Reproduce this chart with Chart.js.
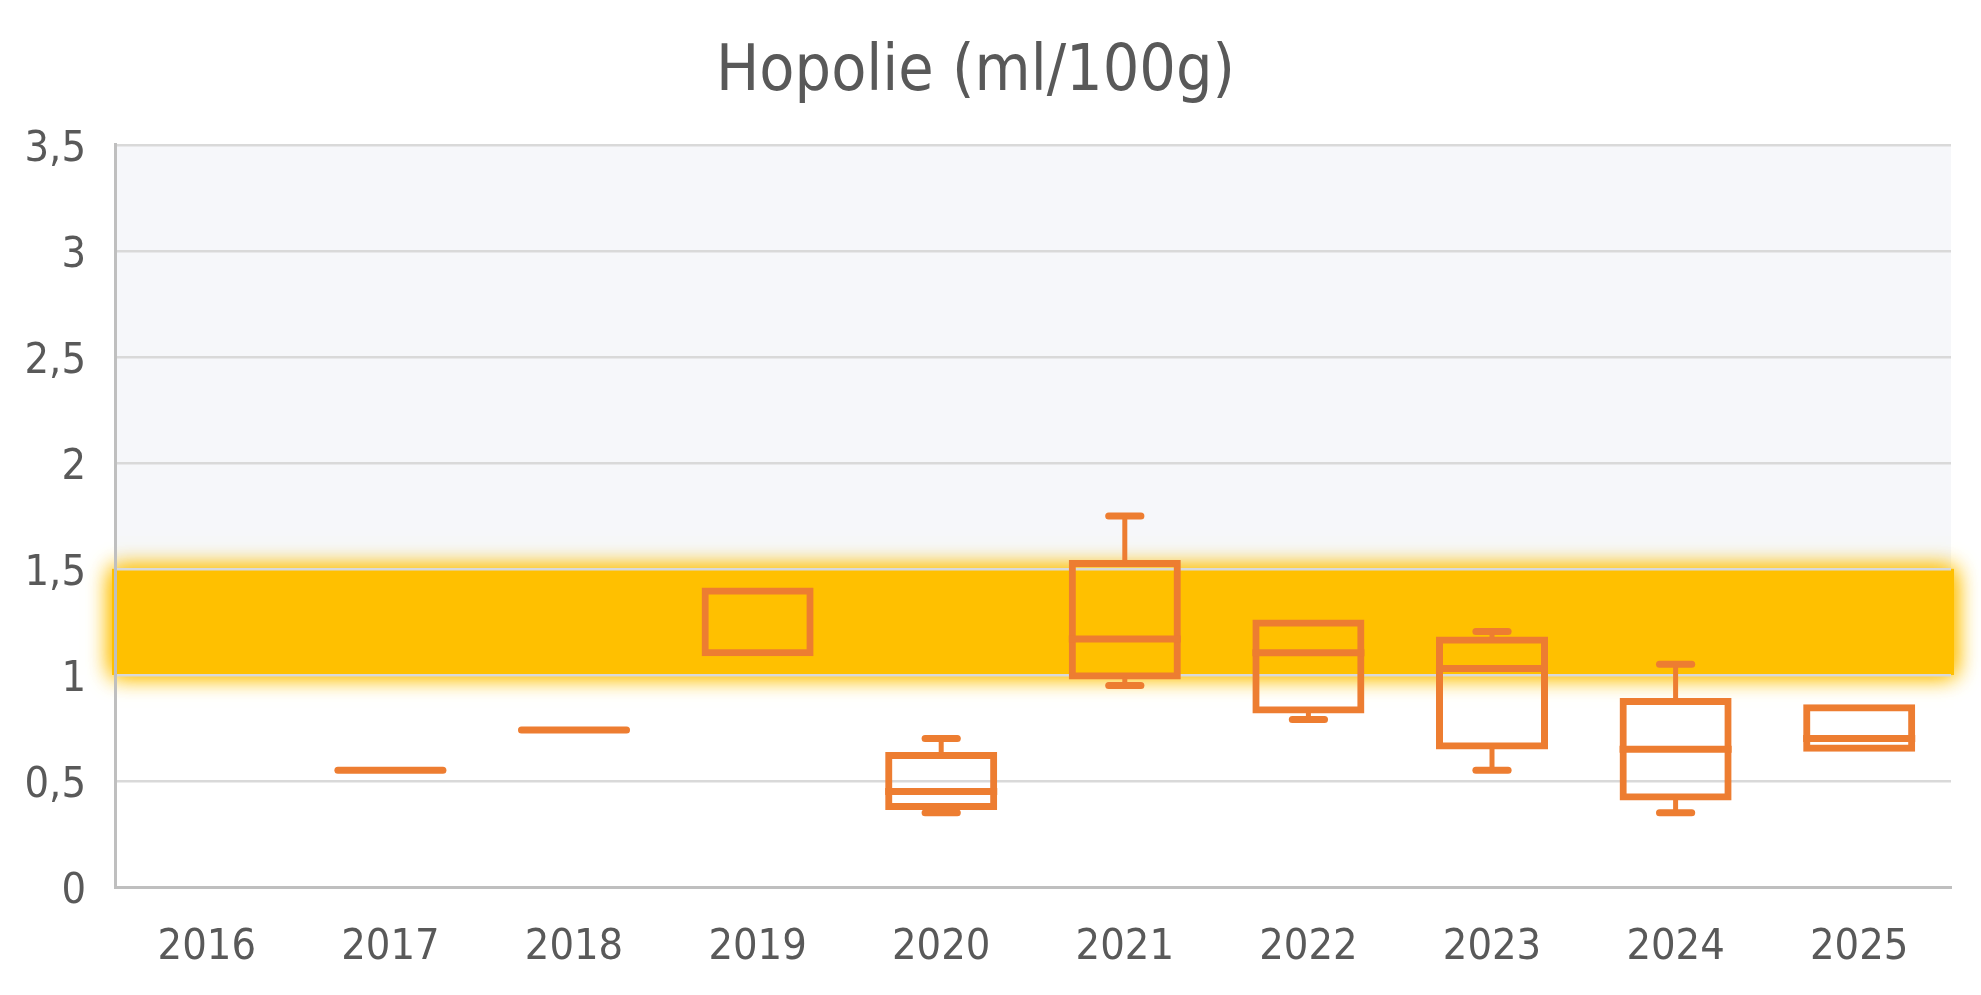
<!DOCTYPE html>
<html>
<head>
<meta charset="utf-8">
<script src="https://cdn.jsdelivr.net/npm/chart.js@4"></script>
<style>
  html, body { margin: 0; padding: 0; background: #fff; }
  #wrap { width: 1981px; height: 995px; }
</style>
</head>
<body>
<div id="wrap"><canvas id="boxChart"></canvas></div>
<script>
/* ── data ── */
const years   = ['2016', '2017', '2018', '2019', '2020', '2021', '2022', '2023', '2024', '2025'];
const mins    = [null, 0.55, 0.74, 1.10, 0.35, 0.95, 0.79, 0.55, 0.35, 0.65];
const q1s     = [null, 0.55, 0.74, 1.10, 0.375, 0.99, 0.83, 0.66, 0.42, 0.65];
const medians = [null, 0.55, 0.74, 1.10, 0.45, 1.17, 1.105, 1.03, 0.65, 0.70];
const q3s     = [null, 0.55, 0.74, 1.40, 0.625, 1.53, 1.25, 1.17, 0.88, 0.85];
const maxs    = [null, 0.55, 0.74, 1.40, 0.70, 1.75, 1.25, 1.205, 1.05, 0.85];
const yTicks  = [0, 0.5, 1, 1.5, 2, 2.5, 3, 3.5];
const band    = [1.0, 1.5];

const ORANGE = '#ED7D31';
const GOLD   = '#FFC000';
const TEXT   = '#595959';
const FONT   = "'DejaVu Sans Condensed', 'DejaVu Sans', sans-serif";
const STROKE = 7;

/* ── background: pale area above the band, glowing gold band ── */
const bandPlugin = {
  id: 'band',
  beforeDraw(chart) {
    const { ctx, chartArea: a, scales: { y } } = chart;
    const yTop = y.getPixelForValue(yTicks[yTicks.length - 1]);
    const yHi  = y.getPixelForValue(band[1]);
    const yLo  = y.getPixelForValue(band[0]);
    ctx.save();
    ctx.fillStyle = '#F6F7FA';
    ctx.fillRect(a.left, yTop, a.right - a.left, yHi - yTop);
    ctx.shadowColor = 'rgba(255,192,0,1)';
    ctx.shadowBlur = 22;
    ctx.fillStyle = GOLD;
    ctx.fillRect(a.left - 3, yHi, a.right - a.left + 6, yLo - yHi);
    ctx.fillRect(a.left - 3, yHi, a.right - a.left + 6, yLo - yHi);
    ctx.restore();
  }
};

/* ── whiskers and medians on top of the floating bars ── */
const whiskerPlugin = {
  id: 'whiskers',
  afterDatasetsDraw(chart) {
    const { ctx, scales: { y } } = chart;
    const meta = chart.getDatasetMeta(0);
    ctx.save();
    ctx.strokeStyle = ORANGE;
    meta.data.forEach((bar, i) => {
      if (q1s[i] == null) return;
      const x = bar.x;
      const half = bar.width / 2 + 2.5;
      const capHalf = half * 0.35 - 3.5;
      const pQ1 = y.getPixelForValue(q1s[i]);
      const pQ3 = y.getPixelForValue(q3s[i]);
      const pMed = y.getPixelForValue(medians[i]);

      // median
      const collapsed = q1s[i] === q3s[i];
      if (collapsed || (medians[i] !== q1s[i] && medians[i] !== q3s[i])) {
        ctx.lineWidth = STROKE;
        ctx.lineCap = collapsed ? 'round' : 'butt';
        ctx.beginPath();
        ctx.moveTo(x - half + (collapsed ? 3.5 : 0), pMed);
        ctx.lineTo(x + half - (collapsed ? 3.5 : 0), pMed);
        ctx.stroke();
      }

      // whiskers
      [[maxs[i], pQ3], [mins[i], pQ1]].forEach(([v, pEdge]) => {
        if (v == null || v === q1s[i] || v === q3s[i]) return;
        const p = y.getPixelForValue(v);
        ctx.lineWidth = 5;
        ctx.lineCap = 'butt';
        ctx.beginPath();
        ctx.moveTo(x, pEdge);
        ctx.lineTo(x, p);
        ctx.stroke();
        ctx.lineWidth = STROKE;
        ctx.lineCap = 'round';
        ctx.beginPath();
        ctx.moveTo(x - capHalf, p);
        ctx.lineTo(x + capHalf, p);
        ctx.stroke();
      });
    });
    ctx.restore();
  }
};

new Chart(document.getElementById('boxChart'), {
  type: 'bar',
  data: {
    labels: years,
    datasets: [{
      label: 'Hopolie',
      data: years.map((_, i) => q1s[i] == null ? null : [q1s[i], q3s[i]]),
      backgroundColor: 'rgba(0,0,0,0)',
      borderColor: ORANGE,
      // ring of 2 + 2.5 + 2.5 px, roughly centred on the quartile edges
      borderWidth: 2,
      inflateAmount: 2.5,
      borderSkipped: false,
      categoryPercentage: 1,
      barPercentage: 0.583
    }]
  },
  options: {
    responsive: true,
    maintainAspectRatio: false,
    animation: false,
    layout: { padding: { left: 0, right: 30, top: 0, bottom: 0 } },
    plugins: {
      legend: { display: false },
      tooltip: { enabled: false },
      title: {
        display: true,
        text: 'Hopolie (ml/100g)',
        color: TEXT,
        font: { family: FONT, size: 64, weight: 'normal', lineHeight: 1.2 },
        padding: { top: 35, bottom: 33 }
      }
    },
    scales: {
      x: {
        grid: { display: false, drawTicks: false },
        border: { display: true, color: '#BFBFBF', width: 3 },
        ticks: { color: TEXT, font: { family: FONT, size: 43 }, padding: 35, maxRotation: 0, autoSkip: false },
        afterFit: s => { s.height = 108; }
      },
      y: {
        min: 0,
        max: 3.5,
        afterBuildTicks: s => { s.ticks = yTicks.map(v => ({ value: v })); },
        grid: { color: '#D9D9D9', lineWidth: 2.5, drawTicks: false },
        border: { display: true, color: '#BFBFBF', width: 3 },
        ticks: {
          color: TEXT,
          font: { family: FONT, size: 43 },
          padding: 29,
          labelOffset: 5,
          callback: v => String(v).replace('.', ',')
        },
        afterFit: s => { s.width = 115; }
      }
    }
  },
  plugins: [bandPlugin, whiskerPlugin]
});
</script>
</body>
</html>
